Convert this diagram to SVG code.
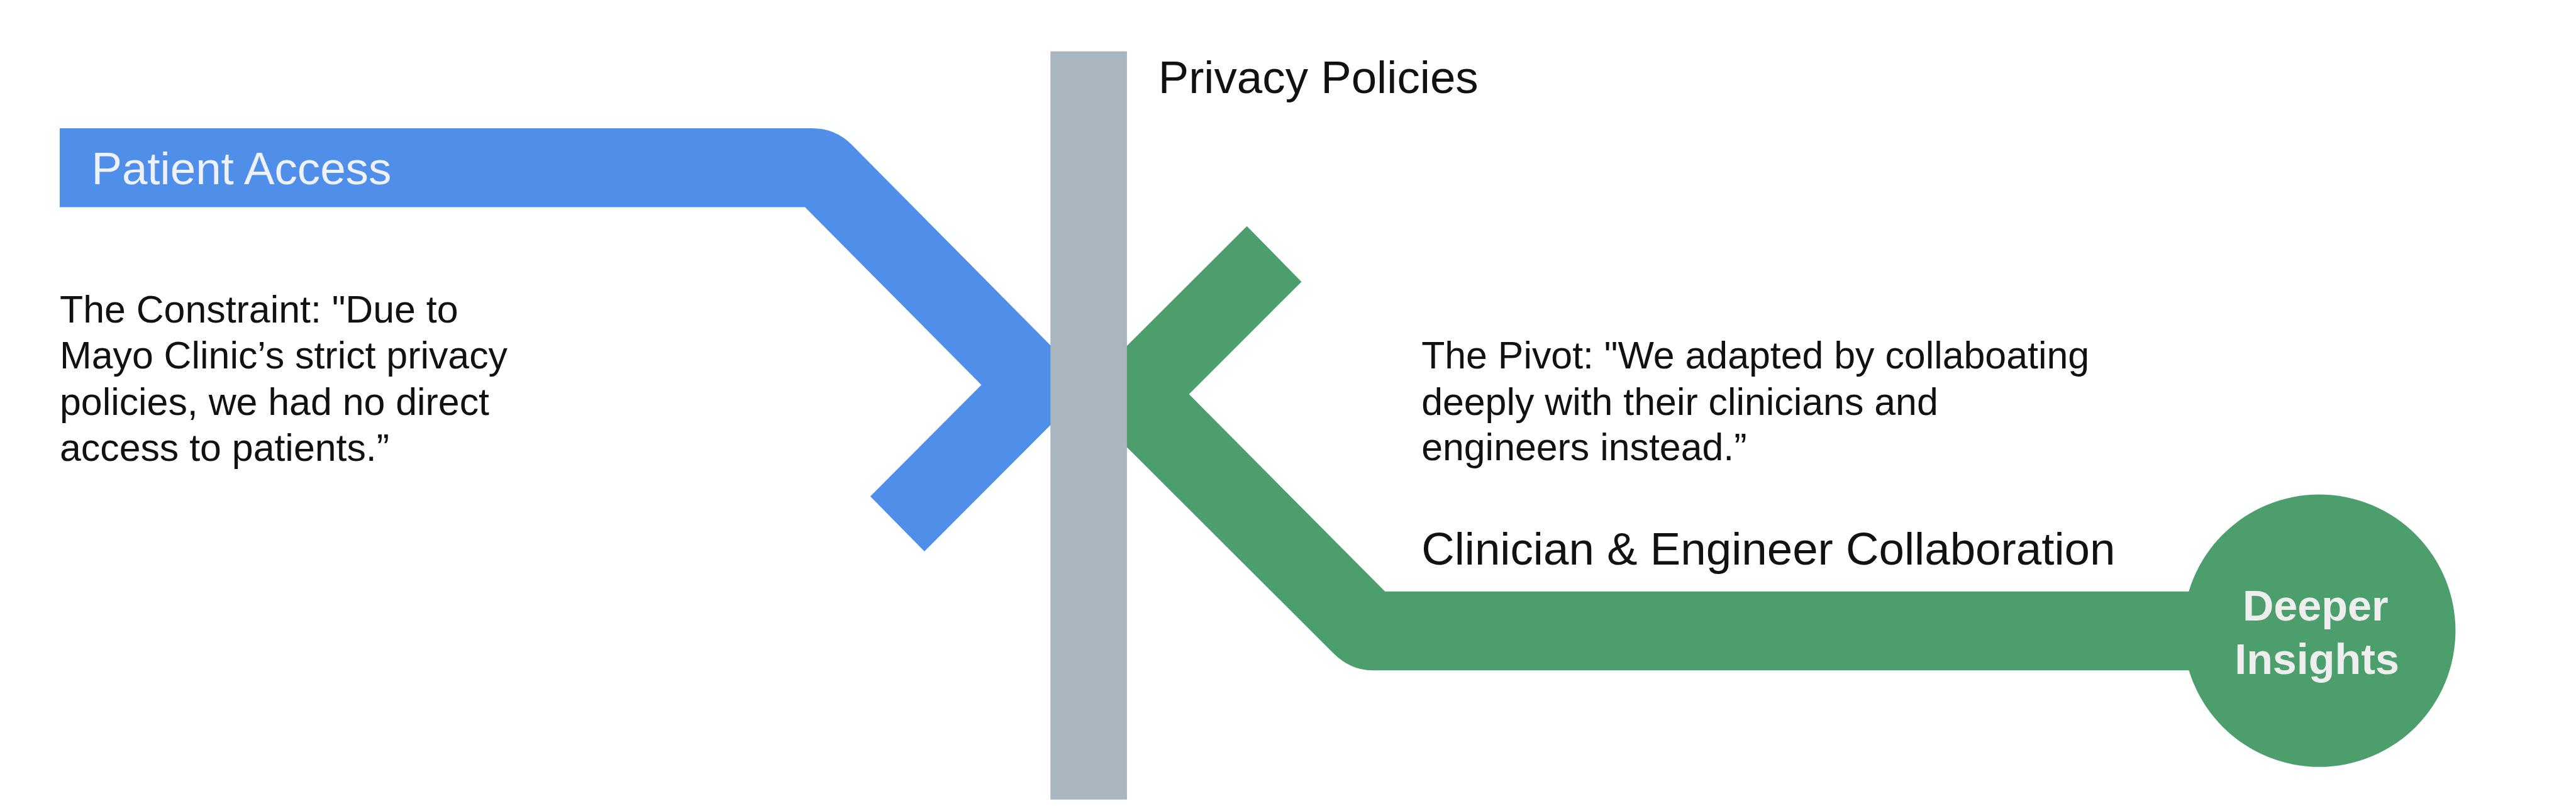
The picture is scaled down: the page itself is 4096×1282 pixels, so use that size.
<svg xmlns="http://www.w3.org/2000/svg" width="4096" height="1282" viewBox="0 0 4096 1282">
<style>
.body{font-family:"Liberation Sans",Arial,sans-serif;font-size:82px;fill:#111111}
.label{font-family:"Liberation Sans",Arial,sans-serif;font-size:98px;fill:#111111}
.onband{font-family:"Liberation Sans",Arial,sans-serif;font-size:98px;fill:#eef2f8}
.bold{font-family:"Liberation Sans",Arial,sans-serif;font-size:92px;font-weight:bold;fill:#eeeeee;text-anchor:middle}
.blue{fill:#4f8fe9}
.green{fill:#4c9f6d}
.bar{fill:#a9b5bf}
</style>
<rect width="4096" height="1282" fill="#ffffff"/>
<g transform="scale(0.742)">
  <g id="connectors">
    <path id="patient-access-line" class="blue" d="M128,275 H1740 Q1790,275 1825,310 L2336,826 L1981,1182 L1865,1064 L2103,825 L1725,444 H128 Z"/>
    <path id="collaboration-line" class="green" d="M2306,850 L2672,485 L2789,604 L2548,845 L2968,1268 H4800 V1437 H2940 Q2894,1437 2857,1400 Z"/>
  </g>
  <g id="node-privacy-policies">
    <rect class="bar" x="2251" y="110" width="164" height="1604"/>
    <text class="label" x="2482" y="200">Privacy Policies</text>
  </g>
  <g id="node-patient-access">
    <text class="onband" x="196" y="395">Patient Access</text>
  </g>
  <g id="node-constraint">
    <text class="body" x="128" y="691">The Constraint: "Due to</text>
    <text class="body" x="128" y="790">Mayo Clinic’s strict privacy</text>
    <text class="body" x="128" y="890">policies, we had no direct</text>
    <text class="body" x="128" y="988">access to patients.”</text>
  </g>
  <g id="node-pivot">
    <text class="body" x="3046" y="790">The Pivot: "We adapted by collaboating</text>
    <text class="body" x="3046" y="889">deeply with their clinicians and</text>
    <text class="body" x="3046" y="987">engineers instead.”</text>
  </g>
  <g id="node-collaboration">
    <text class="label" x="3046" y="1210">Clinician &amp; Engineer Collaboration</text>
  </g>
  <g id="node-deeper-insights">
    <circle class="green" cx="4970" cy="1352" r="292"/>
    <text class="bold" x="4962" y="1330">Deeper</text>
    <text class="bold" x="4965" y="1445">Insights</text>
  </g>
</g>
</svg>
